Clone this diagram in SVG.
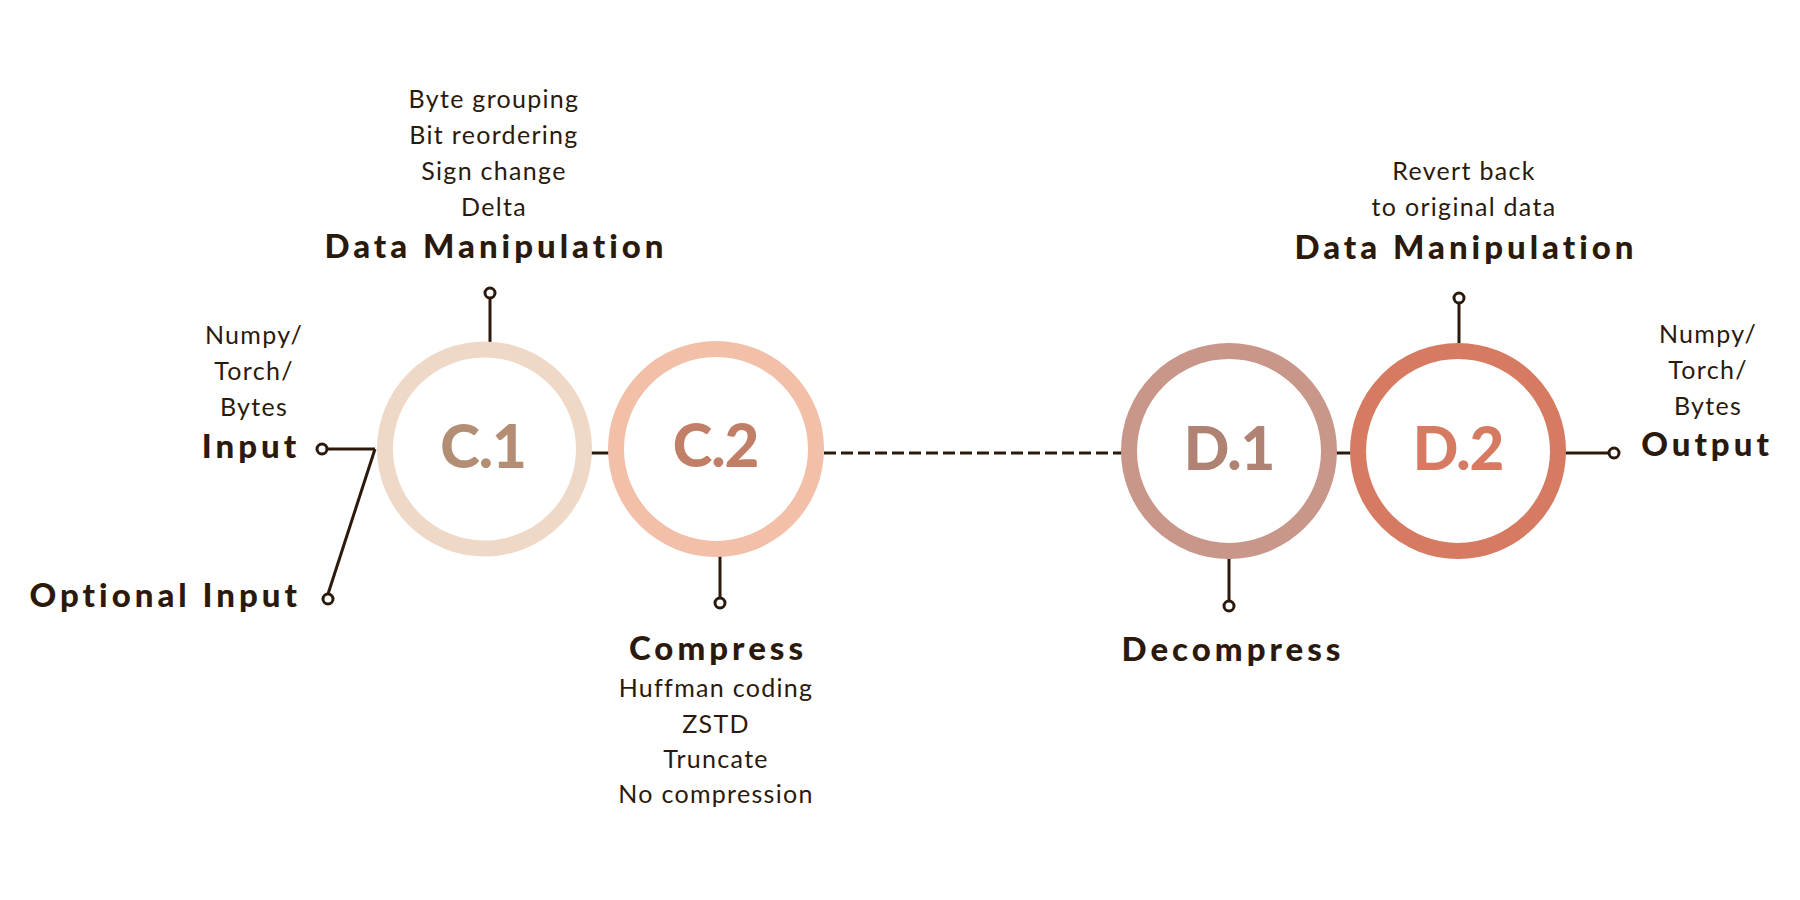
<svg xmlns="http://www.w3.org/2000/svg" width="1800" height="900" viewBox="0 0 1800 900">
<style>
.bg{fill:#ffffff}
.ring{fill:none;stroke-width:16}
.lbl{font-family:Lato,"Liberation Sans",sans-serif;font-weight:900;font-size:60px;text-anchor:middle;letter-spacing:-1px}
.h{font-family:Lato,"Liberation Sans",sans-serif;font-weight:900;font-size:33px;fill:#2b1a0c;letter-spacing:4px}
.t{font-family:Lato,"Liberation Sans",sans-serif;font-size:25px;fill:#2b1a0c;letter-spacing:1.3px}
.c{text-anchor:middle}
.e{text-anchor:end}
.ln{stroke:#2b1a0c;stroke-width:3;fill:none}
.dot{fill:#ffffff;stroke:#2b1a0c;stroke-width:3}
</style>
<rect class="bg" x="0" y="0" width="1800" height="900"/>
<g id="connectors">
  <line class="ln" x1="327" y1="449" x2="375" y2="449"/>
  <line class="ln" x1="375" y1="449" x2="328" y2="594"/>
  <circle class="dot" cx="322" cy="449" r="5"/>
  <circle class="dot" cx="328" cy="599" r="5"/>
  <line class="ln" x1="490" y1="298" x2="490" y2="342"/>
  <circle class="dot" cx="490" cy="293" r="5"/>
  <line class="ln" x1="590" y1="453" x2="610" y2="453"/>
  <line class="ln" x1="720" y1="556" x2="720" y2="598"/>
  <circle class="dot" cx="720" cy="603" r="5"/>
  <line class="ln" x1="824" y1="453" x2="1122" y2="453" stroke-dasharray="12 5"/>
  <line class="ln" x1="1229" y1="558" x2="1229" y2="601"/>
  <circle class="dot" cx="1229" cy="606" r="5"/>
  <line class="ln" x1="1335" y1="453" x2="1352" y2="453"/>
  <line class="ln" x1="1459" y1="303" x2="1459" y2="343"/>
  <circle class="dot" cx="1459" cy="298" r="5"/>
  <line class="ln" x1="1565" y1="453" x2="1609" y2="453"/>
  <circle class="dot" cx="1614" cy="453" r="5"/>
</g>
<g id="input">
  <text class="t c" x="254" y="344">Numpy/</text>
  <text class="t c" x="254" y="380">Torch/</text>
  <text class="t c" x="254" y="416">Bytes</text>
  <text class="h c" x="251" y="458">Input</text>
</g>
<g id="optional-input">
  <text class="h e" x="301" y="607">Optional Input</text>
</g>
<g id="c1">
  <circle class="ring" cx="484.5" cy="449" r="99.5" stroke="#efd8c6"/>
  <text class="lbl" x="483" y="468" fill="#b38d74">C.1</text>
</g>
<g id="c1-label">
  <text class="t c" x="494" y="108">Byte grouping</text>
  <text class="t c" x="494" y="144">Bit reordering</text>
  <text class="t c" x="494" y="180">Sign change</text>
  <text class="t c" x="494" y="216">Delta</text>
  <text class="h c" x="496" y="258">Data Manipulation</text>
</g>
<g id="c2">
  <circle class="ring" cx="716" cy="449" r="100" stroke="#f2bfa8"/>
  <text class="lbl" x="715.5" y="467" fill="#c07f66">C.2</text>
</g>
<g id="c2-label">
  <text class="h c" x="718" y="660">Compress</text>
  <text class="t c" x="716" y="697">Huffman coding</text>
  <text class="t c" x="716" y="733">ZSTD</text>
  <text class="t c" x="716" y="768">Truncate</text>
  <text class="t c" x="716" y="803">No compression</text>
</g>
<g id="d1">
  <circle class="ring" cx="1229" cy="451" r="100" stroke="#c8978a"/>
  <text class="lbl" x="1229" y="470" fill="#b08274">D.1</text>
</g>
<g id="d1-label">
  <text class="h c" x="1233" y="661">Decompress</text>
</g>
<g id="d2">
  <circle class="ring" cx="1458" cy="451" r="100" stroke="#d77a62"/>
  <text class="lbl" x="1458" y="470" fill="#d77a62">D.2</text>
</g>
<g id="d2-label">
  <text class="t c" x="1464" y="180">Revert back</text>
  <text class="t c" x="1464" y="216">to original data</text>
  <text class="h c" x="1466" y="259">Data Manipulation</text>
</g>
<g id="output">
  <text class="t c" x="1708" y="343">Numpy/</text>
  <text class="t c" x="1708" y="379">Torch/</text>
  <text class="t c" x="1708" y="415">Bytes</text>
  <text class="h c" x="1707" y="456">Output</text>
</g>
</svg>
